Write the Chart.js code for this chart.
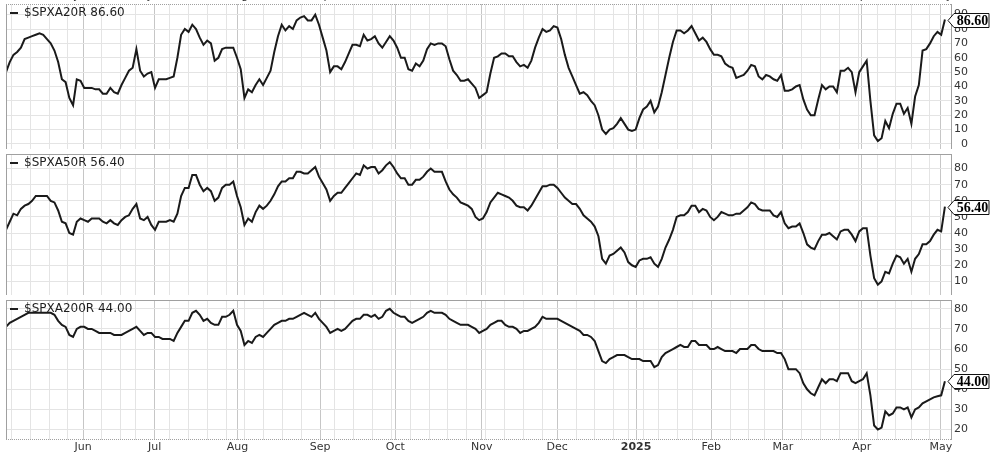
<!DOCTYPE html>
<html>
<head>
<meta charset="utf-8">
<script src="https://cdn.jsdelivr.net/npm/chart.js@4.4.1/dist/chart.umd.min.js"></script>
<style>
  html, body { margin: 0; padding: 0; background: #fff; overflow: hidden; }
  #wrap { position: relative; width: 992px; height: 452px; }
  canvas { position: absolute; left: 0; }
</style>
</head>
<body>
<div id="wrap">
  <canvas id="p20" width="992" height="149" style="top:0px"></canvas>
  <canvas id="p50" width="992" height="145" style="top:150px"></canvas>
  <canvas id="p200" width="992" height="156" style="top:296px"></canvas>
</div>
<script>
// one value per trading day, early May 2024 .. 2 May 2025
var spxa20r = [
  50,57,62,64,67,73,74,75,76,77, 76,73,70,65,57,45,43,32,27,45,
  44,39,39,39,38,38,35,35,39,36, 35,41,46,51,53,66,51,47,49,50,
  39,45,45,45,46,47,60,76,80,78, 83,80,74,69,72,70,58,60,66,67,
  67,67,60,52,32,38,36,41,45,41, 46,51,64,75,83,79,82,80,86,88,
  89,86,86,90,83,74,65,50,54,54, 52,57,63,69,69,68,76,72,73,75,
  70,67,71,75,72,67,60,60,52,51, 56,54,58,66,70,69,70,70,68,59,
  51,48,44,44,45,42,39,32,34,36, 49,60,61,63,63,61,61,57,54,55,
  53,58,67,74,80,78,79,82,81,73, 62,53,47,41,35,36,34,30,27,20,
  10,7,10,11,14,18,14,10,9,10, 18,24,26,30,22,26,36,48,60,71,
  79,79,77,79,82,77,72,74,71,66, 62,62,61,56,54,53,46,47,48,51,
  55,54,47,45,48,47,45,44,48,37, 37,38,40,41,31,24,20,20,31,41,
  38,40,40,36,51,51,53,50,36,50, 54,58,30,6,2,4,16,11,21,28,
  28,21,25,14,33,41,65,66,70,75, 78,76,86.6
];
var spxa50r = [
  42,47,52,51,55,57,58,60,63,63, 63,63,60,59,54,47,46,40,39,47,
  49,48,47,49,49,49,47,46,48,46, 45,48,50,51,55,58,49,48,50,45,
  42,47,47,47,48,47,52,63,68,68, 76,76,70,66,68,66,60,62,68,70,
  70,72,63,56,45,49,47,53,57,55, 57,60,64,69,72,72,74,74,78,78,
  77,77,79,81,75,71,67,60,63,65, 65,68,71,74,77,76,82,80,81,81,
  77,79,82,84,81,77,74,74,70,70, 73,73,75,78,80,78,78,78,72,67,
  64,62,59,58,57,55,50,48,49,53, 59,62,65,64,63,62,60,57,56,56,
  54,57,61,65,69,69,70,70,68,65, 62,60,58,58,55,51,49,47,44,38,
  24,21,26,27,29,31,28,22,20,19, 23,24,24,25,21,19,24,31,36,42,
  50,51,51,53,57,57,53,55,54,50, 48,50,53,52,51,51,52,52,54,56,
  59,58,55,54,54,54,51,50,53,46, 43,44,44,46,40,33,31,30,35,39,
  39,40,38,36,41,42,42,39,35,41, 43,43,26,12,8,10,16,15,21,26,
  25,21,24,16,24,27,33,33,35,39, 42,41,56.4
];
var spxa200r = [
  71,73,74,75,76,77,78,78,78,78, 78,78,78,77,74,72,71,67,66,70,
  71,71,70,70,69,68,68,68,68,67, 67,67,68,69,70,71,69,67,68,68,
  66,66,65,65,65,64,68,71,74,74, 78,79,77,74,75,73,72,72,76,76,
  77,79,72,69,62,64,63,66,67,66, 68,70,72,73,74,74,75,75,76,77,
  78,77,76,78,75,73,71,68,69,70, 69,70,72,74,75,75,77,77,76,77,
  75,76,79,80,78,77,76,76,74,73, 74,75,76,78,79,78,78,78,77,75,
  74,73,72,72,72,71,70,68,69,70, 72,73,74,74,72,71,71,70,68,69,
  69,70,71,73,76,75,75,75,75,74, 73,72,71,70,69,67,67,66,64,59,
  54,53,55,56,57,57,57,56,55,55, 55,54,54,54,51,52,56,58,59,60,
  61,62,61,61,64,64,62,62,62,60, 60,61,60,59,59,59,58,60,60,60,
  62,62,60,59,59,59,59,58,58,55, 50,50,50,48,43,40,38,37,41,45,
  43,45,45,44,48,48,48,44,43,44, 45,48,37,22,20,21,29,27,28,31,
  31,30,31,26,30,31,33,34,35,36, 36.5,37,44
];
var seriesNames = ['$SPXA20R', '$SPXA50R', '$SPXA200R'];

// x positions in trading-day index units
var monthPos = [20.7, 39.9, 62.1, 84.3, 104.5, 127.7, 147.9, 169.1, 189.3, 208.5, 229.7, 250.9];
var monthLabels = ['Jun', 'Jul', 'Aug', 'Sep', 'Oct', 'Nov', 'Dec', '2025', 'Feb', 'Mar', 'Apr', 'May'];
var weekPos = [1.5, 6.5, 11.6, 16.6, 25.7, 30.8, 34.8, 43.9, 49.0, 54.0, 59.1, 64.1, 69.2, 74.2, 79.3,
  88.3, 93.4, 98.4, 103.5, 108.5, 113.6, 118.6, 123.7, 128.7, 133.8, 138.8, 143.9, 153.0, 158.0,
  163.1, 167.1, 171.2, 175.2, 180.2, 184.3, 194.4, 199.4, 203.5, 213.6, 218.6, 223.7, 228.7,
  233.8, 238.8, 242.9, 247.9];

var ticks20 = [0, 10, 20, 30, 40, 50, 60, 70, 80, 90];
var ticks50 = [10, 20, 30, 40, 50, 60, 70, 80];
var ticks200 = [20, 30, 40, 50, 60, 70, 80];

var X_MAX = 253.9;
var FONT = 'DejaVu Sans';

var panelDecor = {
    id: 'panelDecor',
    afterDatasetsDraw: function (chart, args, opts) {
        var ctx = chart.ctx, a = chart.chartArea;
        ctx.save();

        /* frame */
        ctx.strokeStyle = '#a0a0a0';
        ctx.lineWidth = 1;
        ctx.beginPath();
        ctx.moveTo(a.left + 0.5, a.top); ctx.lineTo(a.left + 0.5, a.bottom);
        ctx.moveTo(a.right - 0.5, a.top); ctx.lineTo(a.right - 0.5, a.bottom);
        ctx.stroke();
        [['top', a.top + 0.5], ['bottom', a.bottom - 0.5]].forEach(function (e) {
            if (!opts[e[0]]) return;
            ctx.setLineDash(opts[e[0]] === 'dotted' ? [1, 1] : []);
            ctx.beginPath();
            ctx.moveTo(a.left, e[1]); ctx.lineTo(a.right, e[1]);
            ctx.stroke();
        });
        ctx.setLineDash([]);

        /* legend */
        var values = chart.data.datasets[0].data;
        var last = values[values.length - 1].y;
        ctx.fillStyle = '#1e1e1e';
        ctx.fillRect(a.left + 4, a.top + 8, 8, 2);
        ctx.font = '12px "' + FONT + '"';
        ctx.textAlign = 'left';
        ctx.textBaseline = 'middle';
        ctx.fillText(opts.name + ' ' + last.toFixed(2), a.left + 18, a.top + 9);

        /* last value box */
        var meta = chart.getDatasetMeta(0);
        var cy = Math.round(meta.data[meta.data.length - 1].y) + 0.5;
        var x0 = a.right - 4, x1 = a.right + 2, x2 = a.right + 37;
        ctx.beginPath();
        ctx.moveTo(x0, cy);
        ctx.lineTo(x1, cy - 7);
        ctx.lineTo(x2, cy - 7);
        ctx.lineTo(x2, cy + 7);
        ctx.lineTo(x1, cy + 7);
        ctx.closePath();
        ctx.fillStyle = '#fff';
        ctx.fill();
        ctx.strokeStyle = '#111';
        ctx.stroke();
        ctx.fillStyle = '#000';
        ctx.font = 'bold 14px "Liberation Serif"';
        ctx.textAlign = 'center';
        ctx.fillText(last.toFixed(2), (x1 + x2) / 2 + 1, cy + 1);
        ctx.restore();
    }
};

function monthLabel(v) {
    var k = monthPos.indexOf(v);
    return k < 0 ? '' : monthLabels[k];
}

// keep the plot area fixed: no extra room for overhanging tick labels
function noPad(s) {
    s.paddingTop = 0;
    s.paddingBottom = 0;
    s.paddingLeft = 0;
    s.paddingRight = 0;
}

function makePanel(id, values, name, yMin, yMax, yTicks, frame, showTop, showBottom) {
    var allX = weekPos.concat(monthPos).sort(function (p, q) { return p - q; });
    return new Chart(document.getElementById(id), {
        type: 'line',
        data: {
            datasets: [{
                data: values.map(function (v, i) { return { x: i, y: v }; }),
                xAxisID: 'x',
                yAxisID: 'y',
                borderColor: '#1a1a1a',
                borderWidth: 2,
                pointRadius: 0,
                tension: 0,
                fill: false
            }]
        },
        options: {
            responsive: false,
            animation: false,
            devicePixelRatio: 1,
            layout: { autoPadding: false, padding: { left: 6, right: 24, top: 0, bottom: 0 } },
            plugins: {
                legend: { display: false },
                tooltip: { enabled: false },
                panelDecor: { name: name, top: frame.top, bottom: frame.bottom }
            },
            scales: {
                x: {
                    type: 'linear', min: 0, max: X_MAX,
                    afterBuildTicks: function (s) { s.ticks = allX.map(function (v) { return { value: v }; }); },
                    afterFit: function (s) { s.height = showBottom ? 12 : 0; noPad(s); },
                    grid: {
                        drawTicks: false,
                        color: function (c) { return c.tick && monthPos.indexOf(c.tick.value) >= 0 ? '#c6c6c6' : '#e4e4e4'; }
                    },
                    border: { display: false },
                    ticks: {
                        display: showBottom, autoSkip: false, maxRotation: 0, padding: 1, color: '#333',
                        font: function (c) {
                            var bold = c.tick && monthLabel(c.tick.value) === '2025';
                            return { family: FONT, size: 11, weight: bold ? 'bold' : 'normal' };
                        },
                        callback: monthLabel
                    }
                },
                // month names cut off at the top edge, as in the cropped original
                xt: {
                    type: 'linear', position: 'top', display: showTop, min: 0, max: X_MAX,
                    afterBuildTicks: function (s) { s.ticks = monthPos.map(function (v) { return { value: v }; }); },
                    afterFit: function (s) { s.height = 4; noPad(s); },
                    grid: { display: false, drawTicks: false },
                    border: { display: false },
                    ticks: {
                        autoSkip: false, maxRotation: 0, padding: 1, color: '#333', callback: monthLabel,
                        font: function (c) {
                            var bold = c.tick && monthLabel(c.tick.value) === '2025';
                            return { family: FONT, size: 11, weight: bold ? 'bold' : 'normal' };
                        }
                    }
                },
                y: {
                    position: 'right', min: yMin, max: yMax,
                    afterBuildTicks: function (s) { s.ticks = yTicks.map(function (v) { return { value: v }; }); },
                    afterFit: function (s) { s.width = 16; noPad(s); },
                    grid: { drawTicks: false, color: '#e4e4e4' },
                    border: { display: false },
                    ticks: { autoSkip: false, crossAlign: 'far', padding: 3, color: '#333', font: { family: FONT, size: 11 } }
                }
            }
        },
        plugins: [panelDecor]
    });
}

makePanel('p20', spxa20r, seriesNames[0], -3.5, 97.4, ticks20, { top: 'dotted' }, true, false);
makePanel('p50', spxa50r, seriesNames[1], 1.55, 89.05, ticks50, { top: 'solid' }, false, false);
makePanel('p200', spxa200r, seriesNames[2], 14.8, 84.35, ticks200, { top: 'solid', bottom: 'dotted' }, false, true);
</script>
</body>
</html>
